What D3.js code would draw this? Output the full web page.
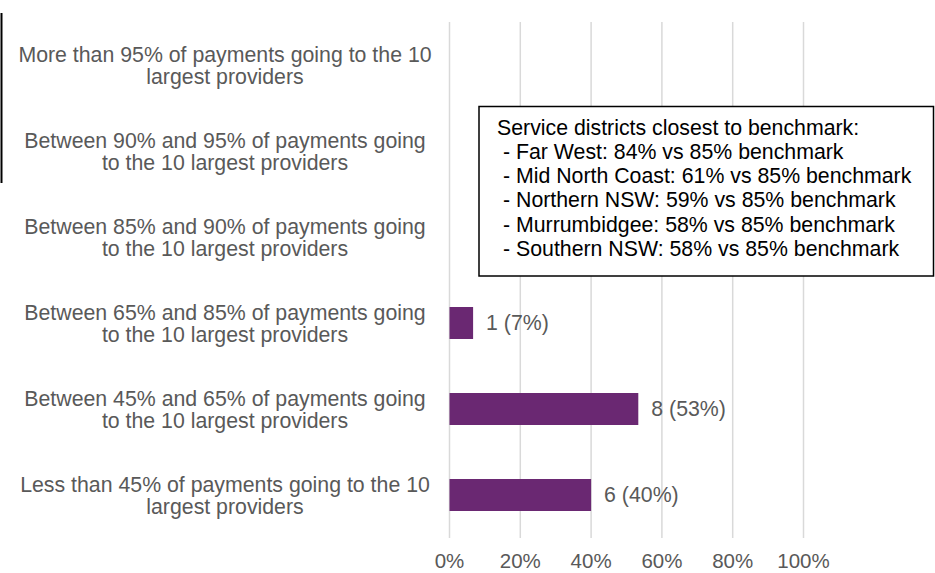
<!DOCTYPE html>
<html>
<head>
<meta charset="utf-8">
<script src="https://cdn.jsdelivr.net/npm/d3@7"></script>
<style>
  body { margin: 0; background: #fff; }
  text { font-family: "Liberation Sans", Arial, sans-serif; }
</style>
</head>
<body>
<div id="chart-area"></div>
<script>
var categories = [
    "More than 95% of payments going to the 10\nlargest providers",
    "Between 90% and 95% of payments going\nto the 10 largest providers",
    "Between 85% and 90% of payments going\nto the 10 largest providers",
    "Between 65% and 85% of payments going\nto the 10 largest providers",
    "Between 45% and 65% of payments going\nto the 10 largest providers",
    "Less than 45% of payments going to the 10\nlargest providers"
];
var counts = [0, 0, 0, 1, 8, 6];
var totalDistricts = 15;
var tickValues = [0, 0.2, 0.4, 0.6, 0.8, 1];
var noteLines = [
    "Service districts closest to benchmark:",
    "- Far West: 84% vs 85% benchmark",
    "- Mid North Coast: 61% vs 85% benchmark",
    "- Northern NSW: 59% vs 85% benchmark",
    "- Murrumbidgee: 58% vs 85% benchmark",
    "- Southern NSW: 58% vs 85% benchmark"
];

var width = 935;
var height = 573;
var fontSize = 21.3;
var grey = "#595959";

var svg = d3.select("#chart-area").append("svg")
    .attr("width", width)
    .attr("height", height);

var x = d3.scaleLinear()
    .domain([0, 1])
    .range([449.5, 803.5]);

var y = d3.scaleBand()
    .domain(categories)
    .range([22, 538])
    .paddingInner(0.628)
    .paddingOuter(0.314);

// gridlines
svg.append("g").selectAll("line")
    .data(tickValues)
    .enter().append("line")
        .attr("x1", d => x(d))
        .attr("x2", d => x(d))
        .attr("y1", 22)
        .attr("y2", 538)
        .attr("stroke", "#d9d9d9")
        .attr("stroke-width", 1.5);

// x tick labels
svg.append("g").selectAll("text")
    .data(tickValues)
    .enter().append("text")
        .attr("x", d => x(d))
        .attr("y", 568)
        .attr("text-anchor", "middle")
        .attr("font-size", 20.5)
        .attr("fill", grey)
        .text(d => d3.format(".0%")(d));

// bars
var data = categories.map((c, i) => ({cat: c, n: counts[i], p: counts[i] / totalDistricts}));

svg.append("g").selectAll("rect")
    .data(data.filter(d => d.n > 0))
    .enter().append("rect")
        .attr("x", x(0))
        .attr("y", d => y(d.cat))
        .attr("width", d => x(d.p) - x(0))
        .attr("height", y.bandwidth())
        .attr("fill", "#6a2872");

svg.append("g").selectAll("text")
    .data(data.filter(d => d.n > 0))
    .enter().append("text")
        .attr("x", d => x(d.p) + 13)
        .attr("y", d => y(d.cat) + y.bandwidth() / 2)
        .attr("dy", "0.35em")
        .attr("font-size", fontSize)
        .attr("fill", grey)
        .text(d => d.n + " (" + Math.round(d.p * 100) + "%)");

// category labels (two lines each)
var catLabels = svg.append("g").selectAll("text")
    .data(categories)
    .enter().append("text")
        .attr("text-anchor", "middle")
        .attr("font-size", fontSize)
        .attr("fill", grey);

catLabels.selectAll("tspan")
    .data(d => d.split("\n").map((t, i) => ({t: t, i: i, c: d})))
    .enter().append("tspan")
        .attr("x", 225)
        .attr("y", d => y(d.c) + y.bandwidth() / 2 - 3.5 + d.i * 22)
        .text(d => d.t);

// stray border on the left
svg.append("line")
    .attr("x1", 1.5).attr("x2", 1.5)
    .attr("y1", 13).attr("y2", 183)
    .attr("stroke", "#000")
    .attr("stroke-width", 2);

// note box
svg.append("rect")
    .attr("x", 479)
    .attr("y", 106.5)
    .attr("width", 454.5)
    .attr("height", 169.5)
    .attr("fill", "#fff")
    .attr("stroke", "#000")
    .attr("stroke-width", 1.5);

svg.append("g").selectAll("text")
    .data(noteLines)
    .enter().append("text")
        .attr("x", (d, i) => i === 0 ? 497 : 503)
        .attr("y", (d, i) => 134.5 + i * 24.3)
        .attr("font-size", fontSize)
        .attr("fill", "#000")
        .text(d => d);
</script>
</body>
</html>
